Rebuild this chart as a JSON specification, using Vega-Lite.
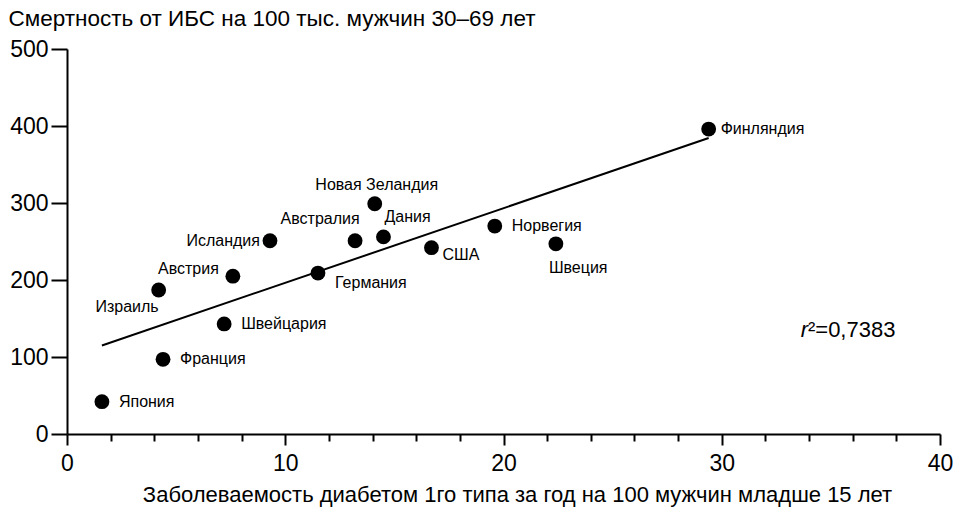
{
  "$schema": "https://vega.github.io/schema/vega-lite/v6.json",
  "width": 873,
  "height": 385,
  "autosize": "none",
  "padding": {"left": 67, "top": 49, "right": 15, "bottom": 73},
  "background": "white",
  "config": {
    "view": {"stroke": null},
    "font": "Liberation Sans",
    "axis": {"grid": false, "domainColor": "black", "tickColor": "black", "labelColor": "black", "titleColor": "black", "labelFont": "Liberation Sans", "titleFont": "Liberation Sans", "titleFontWeight": "normal", "domainWidth": 2, "tickWidth": 2}
  },
  "data": {
    "values": [
      {"country": "Япония", "diabetes": 1.6, "mortality": 42},
      {"country": "Франция", "diabetes": 4.4, "mortality": 97},
      {"country": "Израиль", "diabetes": 4.2, "mortality": 187},
      {"country": "Австрия", "diabetes": 7.6, "mortality": 205},
      {"country": "Швейцария", "diabetes": 7.2, "mortality": 143},
      {"country": "Исландия", "diabetes": 9.3, "mortality": 251},
      {"country": "Германия", "diabetes": 11.5, "mortality": 209},
      {"country": "Австралия", "diabetes": 13.2, "mortality": 251},
      {"country": "Новая Зеландия", "diabetes": 14.1, "mortality": 299},
      {"country": "Дания", "diabetes": 14.5, "mortality": 256},
      {"country": "США", "diabetes": 16.7, "mortality": 242},
      {"country": "Норвегия", "diabetes": 19.6, "mortality": 270},
      {"country": "Швеция", "diabetes": 22.4, "mortality": 247},
      {"country": "Финляндия", "diabetes": 29.4, "mortality": 396}
    ]
  },
  "layer": [
    {
      "encoding": {
        "x": {"field": "diabetes", "type": "quantitative", "scale": {"domain": [0, 40], "nice": false, "zero": true},
          "axis": {"values": [0, 2, 4, 6, 8, 10, 12, 14, 16, 18, 20, 22, 24, 26, 28, 30, 32, 34, 36, 38, 40],
            "tickSize": {"condition": {"test": "datum.value % 10 === 0", "value": 11}, "value": 7},
            "labelExpr": "datum.value % 10 === 0 ? datum.label : ''",
            "labelPadding": 7, "labelFontSize": 23, "labelFlush": false, "labelOverlap": false,
            "title": "Заболеваемость диабетом 1го типа за год на 100 мужчин младше 15 лет", "titleFontSize": 22, "titleX": 450, "titleY": 60, "titleAlign": "center", "titleBaseline": "middle"}},
        "y": {"field": "mortality", "type": "quantitative", "scale": {"domain": [0, 500], "nice": false},
          "axis": {"values": [0, 100, 200, 300, 400, 500], "tickSize": 16, "labelPadding": 3, "labelFontSize": 23, "title": "Смертность от ИБС на 100 тыс. мужчин 30–69 лет", "titleFontSize": 22.5, "titleAngle": 0, "titleAlign": "left", "titleBaseline": "middle", "titleX": -59, "titleY": -31}}
      },
      "layer": [
        {
          "transform": [{"regression": "mortality", "on": "diabetes"}],
          "mark": {"type": "line", "color": "black", "strokeWidth": 2}
        },
        {
          "mark": {"type": "circle", "color": "black", "opacity": 1, "size": 220}
        },
        {
          "transform": [{"filter": {"field": "country", "oneOf": ["Япония", "Франция", "Швейцария", "Норвегия"]}}],
          "mark": {"type": "text", "align": "left", "baseline": "middle", "dx": 17, "dy": 0, "fontSize": 16, "color": "black"},
          "encoding": {"text": {"field": "country"}}
        },
        {
          "transform": [{"filter": {"field": "country", "oneOf": ["Финляндия"]}}],
          "mark": {"type": "text", "align": "left", "baseline": "middle", "dx": 12, "dy": 0, "fontSize": 16, "color": "black"},
          "encoding": {"text": {"field": "country"}}
        },
        {
          "transform": [{"filter": {"field": "country", "oneOf": ["США"]}}],
          "mark": {"type": "text", "align": "left", "baseline": "middle", "dx": 11, "dy": 7, "fontSize": 16, "color": "black"},
          "encoding": {"text": {"field": "country"}}
        },
        {
          "transform": [{"filter": {"field": "country", "oneOf": ["Германия"]}}],
          "mark": {"type": "text", "align": "left", "baseline": "middle", "dx": 17, "dy": 10, "fontSize": 16, "color": "black"},
          "encoding": {"text": {"field": "country"}}
        },
        {
          "transform": [{"filter": {"field": "country", "oneOf": ["Швеция"]}}],
          "mark": {"type": "text", "align": "left", "baseline": "middle", "dx": -7, "dy": 24, "fontSize": 16, "color": "black"},
          "encoding": {"text": {"field": "country"}}
        },
        {
          "transform": [{"filter": {"field": "country", "oneOf": ["Израиль"]}}],
          "mark": {"type": "text", "align": "right", "baseline": "middle", "dx": 0, "dy": 17, "fontSize": 16, "color": "black"},
          "encoding": {"text": {"field": "country"}}
        },
        {
          "transform": [{"filter": {"field": "country", "oneOf": ["Австрия"]}}],
          "mark": {"type": "text", "align": "right", "baseline": "middle", "dx": -14, "dy": -7, "fontSize": 16, "color": "black"},
          "encoding": {"text": {"field": "country"}}
        },
        {
          "transform": [{"filter": {"field": "country", "oneOf": ["Исландия"]}}],
          "mark": {"type": "text", "align": "right", "baseline": "middle", "dx": -10, "dy": 0, "fontSize": 16, "color": "black"},
          "encoding": {"text": {"field": "country"}}
        },
        {
          "transform": [{"filter": {"field": "country", "oneOf": ["Австралия"]}}],
          "mark": {"type": "text", "align": "center", "baseline": "middle", "dx": -35, "dy": -22, "fontSize": 16, "color": "black"},
          "encoding": {"text": {"field": "country"}}
        },
        {
          "transform": [{"filter": {"field": "country", "oneOf": ["Дания"]}}],
          "mark": {"type": "text", "align": "left", "baseline": "middle", "dx": 1, "dy": -20, "fontSize": 16, "color": "black"},
          "encoding": {"text": {"field": "country"}}
        },
        {
          "transform": [{"filter": {"field": "country", "oneOf": ["Новая Зеландия"]}}],
          "mark": {"type": "text", "align": "center", "baseline": "middle", "dx": 2, "dy": -19, "fontSize": 16, "color": "black"},
          "encoding": {"text": {"field": "country"}}
        }
      ]
    },
    {
      "data": {"values": [{"label": "r"}]},
      "mark": {"type": "text", "align": "right", "baseline": "middle", "fontSize": 22, "fontStyle": "italic", "color": "black"},
      "encoding": {"x": {"datum": 33.95, "type": "quantitative"}, "y": {"datum": 135, "type": "quantitative"}, "text": {"field": "label", "type": "nominal"}}
    },
    {
      "data": {"values": [{"label": "²=0,7383"}]},
      "mark": {"type": "text", "align": "left", "baseline": "middle", "fontSize": 22, "color": "black"},
      "encoding": {"x": {"datum": 33.95, "type": "quantitative"}, "y": {"datum": 135, "type": "quantitative"}, "text": {"field": "label", "type": "nominal"}}
    }
  ]
}
